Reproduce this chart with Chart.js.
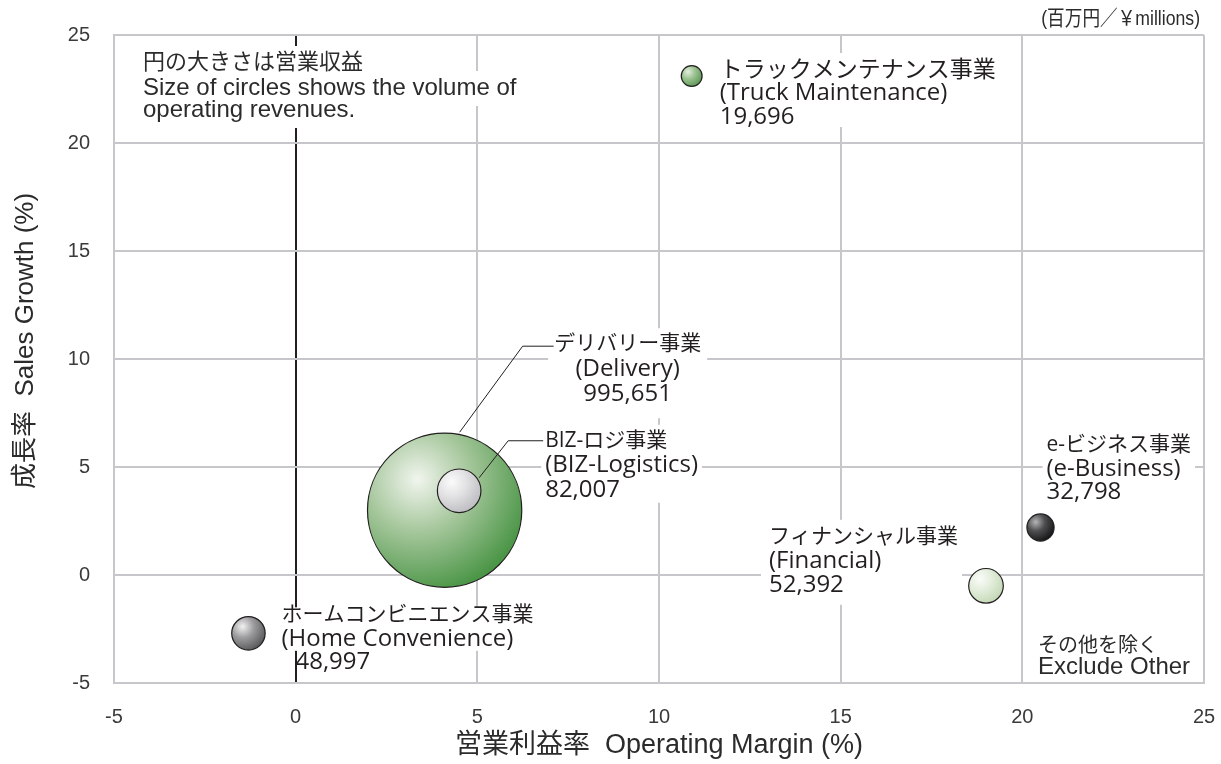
<!DOCTYPE html>
<html>
<head>
<meta charset="utf-8">
<script src="https://cdn.jsdelivr.net/npm/chart.js@4.4.1/dist/chart.umd.min.js"></script>
<style>
  html, body { margin: 0; padding: 0; background: #fff; }
</style>
</head>
<body>
<canvas id="grafica" width="1221" height="764"></canvas>
<script>
// Datos por segmento (sin "Otros")
const segmentosJa = ['デリバリー事業', 'BIZ-ロジ事業', 'ホームコンビニエンス事業', 'e-ビジネス事業', 'フィナンシャル事業', 'トラックメンテナンス事業'];
const segmentosEn = ['Delivery', 'BIZ-Logistics', 'Home Convenience', 'e-Business', 'Financial', 'Truck Maintenance'];
const margenOperativo = [4.1, 4.5, -1.3, 20.5, 19.0, 10.9];
const crecimientoVentas = [3.0, 3.9, -2.7, 2.2, -0.5, 23.1];
const ingresos = [995651, 82007, 48997, 32798, 52392, 19696];
const ticksX = [-5, 0, 5, 10, 15, 20, 25];
const ticksY = [-5, 0, 5, 10, 15, 20, 25];

const tinta = '#231f20';
const gris = '#c6c6cb';
const fuenteJa = '"Open Sans", "Noto Sans CJK JP", sans-serif';
const fuenteLatin = '"Open Sans", "Noto Sans CJK JP", sans-serif';
const fuenteHelv = '"Liberation Sans", "Noto Sans CJK JP", sans-serif';

// brillo, medio, borde
const coloresBurbuja = [
  ['#f1f5ee', '#a6c79c', '#4a9546'],
  ['#fbfbfb', '#e2e2e4', '#bdbdc2'],
  ['#f2f2f2', '#9c9c9e', '#58585a'],
  ['#b5b5b7', '#4e4e50', '#161617'],
  ['#fbfcf9', '#e3eddc', '#c3d8b6'],
  ['#e3eedd', '#9cc391', '#5c9856']
];

// posición de las etiquetas respecto al centro de cada burbuja
const etiquetas = [
  { dx: 183, dy: -166, paso: 25, alinear: 'center', caja: [16, 24, 6, 6], guia: [[15, -78], [78, -164], [109, -164]] },
  { dx: 86, dy: -50, paso: 24.5, caja: [16, 13, 4, 4], guia: [[20, -13], [49, -50], [84, -50]] },
  { dx: 33, dy: -18, paso: 23.5, caja: [8, 12, 2, 4], cajaLineas: 2, sangria: [0, 0, 14] },
  { dx: 6, dy: -82, paso: 23.5, caja: [14, 12, 4, 4] },
  { dx: -217, dy: -49, paso: 24, caja: [17, 20, 8, 4] },
  { dx: 28, dy: -6, paso: 23.5, tamJa: 23, caja: [17, 10, 4, 6] }
];

// la burbuja grande no debe empujar el área del gráfico
Chart.BubbleController.prototype.getMaxOverflow = function () { return false; };

function degradado(ctx) {
  const chart = ctx.chart;
  const c = coloresBurbuja[ctx.dataIndex] || coloresBurbuja[0];
  if (ctx.type !== 'data' || !chart.chartArea || !ctx.raw) return c[1];
  const cx = chart.scales.x.getPixelForValue(ctx.raw.x);
  const cy = chart.scales.y.getPixelForValue(ctx.raw.y);
  const r = ctx.raw.r;
  const hx = cx - 0.35 * r;
  const hy = cy - 0.4 * r;
  const g = chart.ctx.createRadialGradient(hx, hy, 0, hx, hy, 1.5 * r);
  g.addColorStop(0, c[0]);
  g.addColorStop(0.45, c[1]);
  g.addColorStop(1, c[2]);
  return g;
}

function lineasEtiqueta(i) {
  return [segmentosJa[i], '(' + segmentosEn[i] + ')', ingresos[i].toLocaleString('en-US')];
}

const pluginTextos = {
  id: 'textos',
  beforeDatasetsDraw(chart) {
    const ctx = chart.ctx;
    const area = chart.chartArea;
    const meta = chart.getDatasetMeta(0);
    ctx.save();
    ctx.fillStyle = '#fff';

    // cajas blancas detrás de las etiquetas
    etiquetas.forEach((e, i) => {
      const p = meta.data[i];
      const lineas = lineasEtiqueta(i);
      const x0 = p.x + e.dx;
      const y0 = p.y + e.dy;
      const n = e.cajaLineas || lineas.length;
      let ancho = 0;
      for (let k = 0; k < n; k++) {
        ctx.font = k === 0 ? `${e.tamJa || 21}px ${fuenteJa}` : `24px ${fuenteLatin}`;
        ancho = Math.max(ancho, ctx.measureText(lineas[k]).width);
      }
      const izq = e.alinear === 'center' ? x0 - ancho / 2 : x0;
      const [arriba, abajo, pi, pd] = e.caja;
      ctx.fillRect(izq - pi, y0 - arriba, ancho + pi + pd, (n - 1) * e.paso + arriba + abajo);
    });

    // nota superior izquierda
    const notas = ['円の大きさは営業収益', 'Size of circles shows the volume of', 'operating revenues.'];
    const nx = area.left + 29;
    const ny = [area.top + 28, area.top + 53, area.top + 75];
    notas.forEach((t, k) => {
      ctx.font = k === 0 ? `22px ${fuenteHelv}` : `24px ${fuenteHelv}`;
      const w = ctx.measureText(t).width;
      ctx.fillRect(nx - 3, ny[k] - 17, w + 6, 35);
    });
    ctx.restore();
  },
  afterDatasetsDraw(chart) {
    const ctx = chart.ctx;
    const area = chart.chartArea;
    const meta = chart.getDatasetMeta(0);
    ctx.save();
    ctx.fillStyle = tinta;
    ctx.textBaseline = 'middle';

    etiquetas.forEach((e, i) => {
      const p = meta.data[i];
      const lineas = lineasEtiqueta(i);
      if (e.guia) {
        ctx.strokeStyle = tinta;
        ctx.lineWidth = 1;
        ctx.beginPath();
        e.guia.forEach(([gx, gy], k) => {
          if (k === 0) ctx.moveTo(p.x + gx, p.y + gy);
          else ctx.lineTo(p.x + gx, p.y + gy);
        });
        ctx.stroke();
      }
      ctx.textAlign = e.alinear || 'left';
      lineas.forEach((t, k) => {
        ctx.font = k === 0 ? `${e.tamJa || 21}px ${fuenteJa}` : `24px ${fuenteLatin}`;
        const sang = e.sangria ? e.sangria[k] : 0;
        ctx.fillText(t, p.x + e.dx + sang, p.y + e.dy + k * e.paso);
      });
    });

    // nota superior izquierda
    ctx.textAlign = 'left';
    ctx.fillStyle = '#2b2b2b';
    const nx = area.left + 29;
    ctx.font = `22px ${fuenteHelv}`;
    ctx.fillText('円の大きさは営業収益', nx, area.top + 28);
    ctx.font = `24px ${fuenteHelv}`;
    ctx.fillText('Size of circles shows the volume of', nx, area.top + 53);
    ctx.fillText('operating revenues.', nx, area.top + 75);

    // otros
    ctx.font = `20px ${fuenteHelv}`;
    ctx.fillText('その他を除く', 1038, 646);
    ctx.font = `24px ${fuenteHelv}`;
    ctx.fillText('Exclude Other', 1038, 667);

    // unidades, letra estrecha
    ctx.textAlign = 'right';
    ctx.font = `21px ${fuenteHelv}`;
    ctx.translate(1200, 19);
    ctx.scale(0.84, 1);
    ctx.fillText('(百万円／￥millions)', 0, 0);
    ctx.restore();
  }
};

const ctx = document.getElementById('grafica').getContext('2d');

const chart = new Chart(ctx, {
  type: 'bubble',
  data: {
    datasets: [
      {
        label: '営業収益',
        data: margenOperativo.map((x, i) => ({
          x,
          y: crecimientoVentas[i],
          r: Math.sqrt(ingresos[i]) * 0.0778 - 0.5
        })),
        backgroundColor: degradado,
        borderColor: tinta,
        borderWidth: 1.2,
        clip: false
      }
    ]
  },
  options: {
    responsive: false,
    devicePixelRatio: 1,
    animation: false,
    events: [],
    layout: { padding: { top: 35, right: 17, left: 0, bottom: 0 } },
    plugins: {
      legend: { display: false },
      tooltip: { enabled: false }
    },
    scales: {
      x: {
        type: 'linear',
        min: -5,
        max: 25,
        afterBuildTicks: (s) => { s.ticks = ticksX.map((v) => ({ value: v })); },
        afterFit: (s) => {
          s.height = 81;
          s.paddingLeft = 0;
          s.paddingRight = 0;
        },
        ticks: {
          padding: 22,
          color: '#3a3a3a',
          font: { family: 'Liberation Sans', size: 20 }
        },
        grid: {
          drawTicks: false,
          lineWidth: 2,
          color: (c) => (c.tick && c.tick.value === 0 ? tinta : gris)
        },
        border: { color: gris, width: 2 },
        title: {
          display: true,
          text: '営業利益率  Operating Margin (%)',
          color: '#2b2b2b',
          padding: { top: 0, bottom: 2 },
          font: { family: fuenteHelv, size: 27 }
        }
      },
      y: {
        type: 'linear',
        min: -5,
        max: 25,
        afterBuildTicks: (s) => { s.ticks = ticksY.map((v) => ({ value: v })); },
        afterFit: (s) => {
          s.width = 114;
          s.paddingTop = 0;
          s.paddingBottom = 0;
        },
        ticks: {
          padding: 24,
          color: '#3a3a3a',
          font: { family: 'Liberation Sans', size: 20 }
        },
        grid: {
          drawTicks: false,
          lineWidth: 2,
          color: gris
        },
        border: { color: gris, width: 2 },
        title: {
          display: true,
          text: '     成長率  Sales Growth (%)',
          color: '#2b2b2b',
          padding: { top: 10, bottom: 0 },
          font: { family: fuenteHelv, size: 26 }
        }
      }
    }
  },
  plugins: [pluginTextos]
});
</script>
</body>
</html>
